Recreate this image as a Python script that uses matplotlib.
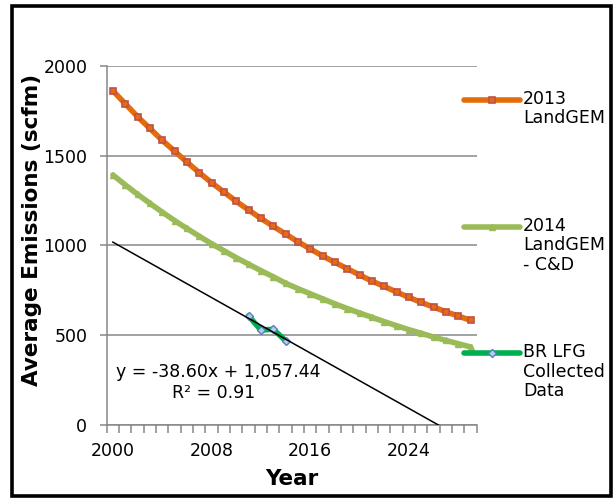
import matplotlib
matplotlib.use('Agg')
import matplotlib.pyplot as plt
import numpy as np
from matplotlib.lines import Line2D
from matplotlib.patches import Rectangle

# ---------------- data ----------------
years = list(range(2000, 2030))
landgem_2013 = [1862, 1790, 1718, 1652, 1586, 1526, 1465, 1406, 1350, 1298,
                1246, 1198, 1151, 1107, 1064, 1021, 981, 942, 906, 871,
                836, 802, 772, 741, 711, 683, 657, 631, 607, 583]
landgem_2014 = [1393, 1338, 1285, 1235, 1186, 1139, 1095, 1052, 1010, 971,
                932, 896, 860, 826, 790, 760, 731, 703, 675, 649,
                624, 600, 576, 553, 531, 511, 490, 471, 453, 435]
br_years = [2011, 2012, 2013, 2014]
br_values = [608, 529, 533, 470]
trend_slope = -38.60
trend_intercept = 1057.44
r_squared = 0.91
x_tick_labels = ['2000', '2008', '2016', '2024']
x_tick_years = [2000, 2008, 2016, 2024]
y_ticks = [0, 500, 1000, 1500, 2000]
series_names = ['2013\nLandGEM', '2014\nLandGEM\n- C&D', 'BR LFG\nCollected\nData']

# ---------------- style ----------------
ORANGE = '#E46C0A'
ORANGE_EDGE = '#C0504D'
GREEN = '#9BBB59'
BRGREEN = '#00B050'
BLUE = '#4F81BD'
GRAY = '#878787'
FS = 12.5

plt.rcParams['font.family'] = ['DejaVu Sans']

W, H = 615, 499
fig = plt.figure(figsize=(W / 100, H / 100), dpi=100)


def fx(px):
    return px / W


def fy(py):
    return 1 - py / H


ax_l, ax_r, ax_t, ax_b = 106.7, 476.7, 66, 425
ax = fig.add_axes([fx(ax_l), fy(ax_b), (ax_r - ax_l) / W, (ax_b - ax_t) / H])

idx = np.arange(len(years))
ax.plot(idx, landgem_2013, color=ORANGE, lw=4, marker='s', ms=4.5, mfc=ORANGE,
        mec=ORANGE_EDGE, mew=1.2, zorder=3, solid_capstyle='round')
ax.plot(idx, landgem_2014, color=GREEN, lw=4, marker='^', ms=4, mfc=GREEN,
        mec=GREEN, zorder=3, solid_capstyle='round')
br_idx = [years.index(y) for y in br_years]
ax.plot(br_idx, br_values, color=BRGREEN, lw=4, marker='D', ms=4, mfc='#B8CCE4',
        mec=BLUE, mew=1, zorder=4, solid_capstyle='round')

# linear trendline (Excel x = category index + 1)
t_end = -trend_intercept / trend_slope
tx = np.array([1.0, t_end])
ax.plot(tx - 1, trend_slope * tx + trend_intercept, color='black', lw=1.1, zorder=5)

ax.set_xlim(-0.5, len(years) - 0.5)
ax.set_ylim(0, 2000)
for s in ['top', 'right']:
    ax.spines[s].set_visible(False)
for s in ['left', 'bottom']:
    ax.spines[s].set_color(GRAY)
    ax.spines[s].set_linewidth(1.1)

ax.set_yticks(y_ticks)
ax.set_yticklabels([str(v) for v in y_ticks])
ax.yaxis.grid(True, color=GRAY, lw=1.1)
ax.set_axisbelow(True)
ax.tick_params(axis='y', length=5, width=1.1, color=GRAY, pad=9, labelsize=FS)

ax.set_xticks(np.arange(-0.5, len(years), 1))
ax.set_xticklabels([])
ax.tick_params(axis='x', which='major', length=6, width=1.1, color=GRAY, direction='out')
ax.set_xticks([years.index(y) for y in x_tick_years], minor=True)
ax.set_xticklabels(x_tick_labels, minor=True)
ax.tick_params(axis='x', which='minor', length=0, pad=12, labelsize=FS)

# axis titles
fig.text(fx(292), fy(479), 'Year', ha='center', va='center', fontsize=15.5,
         fontweight='bold')
fig.text(fx(32), fy(230), 'Average Emissions (scfm)', ha='center', va='center',
         rotation=90, fontsize=15.5, fontweight='bold')

# trendline equation
fig.text(fx(218.5), fy(371.7), f'y = {trend_slope:.2f}x + {trend_intercept:,.2f}',
         ha='center', va='center', fontsize=FS)
fig.text(fx(213.5), fy(393), f'R\u00b2 = {r_squared:.2f}', ha='center', va='center',
         fontsize=FS)

# legend (manual, Excel style)
legend_y = [100, 226.7, 353.3]
styles = [dict(color=ORANGE, marker='s', ms=4.5, mfc=ORANGE, mec=ORANGE_EDGE, mew=1.2),
          dict(color=GREEN, marker='^', ms=4, mfc=GREEN, mec=GREEN),
          dict(color=BRGREEN, marker='D', ms=4, mfc='#B8CCE4', mec=BLUE, mew=1)]
for name, ly, st in zip(series_names, legend_y, styles):
    ln = Line2D([fx(464), fx(492), fx(520)], [fy(ly)] * 3, lw=4, markevery=[1],
                transform=fig.transFigure, solid_capstyle='round', **st)
    fig.add_artist(ln)
    fig.text(fx(523), fy(ly - 10), name, ha='left', va='top', fontsize=FS,
             linespacing=1.1)

# outer border
fig.add_artist(Rectangle((fx(12), fy(496)), (611 - 12) / W, (496 - 6) / H,
                         transform=fig.transFigure, fill=False, lw=2.6,
                         edgecolor='black'))

fig.savefig('out.png', dpi=100)
